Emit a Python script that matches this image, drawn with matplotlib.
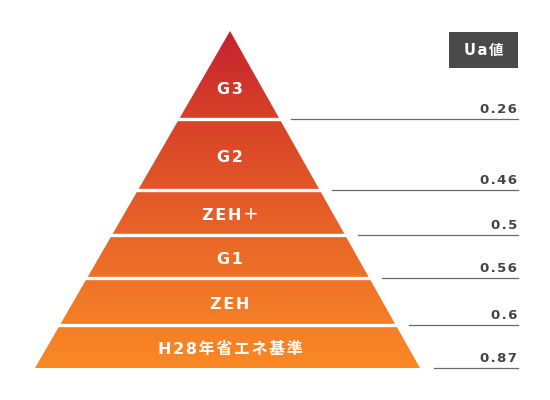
import numpy as np
import matplotlib
matplotlib.use("Agg")
import matplotlib.pyplot as plt
from matplotlib.patches import Polygon, Rectangle
from matplotlib.colors import LinearSegmentedColormap

plt.rcParams['font.family'] = ['Noto Sans CJK JP', 'DejaVu Sans']

# データ
levels = ['G3', 'G2', 'ZEH＋', 'G1', 'ZEH', 'H28年省エネ基準']
ua_values = ['0.26', '0.46', '0.5', '0.56', '0.6', '0.87']
header = 'Ua値'

# レイアウト (pixel座標)
apex = (230, 31)
base_y = 368
base_left, base_right = 35, 420
tier_bottoms = [119, 190, 235, 278, 325, 368]
line_end = 518

fig = plt.figure(figsize=(5.5, 4), dpi=100)
ax = fig.add_axes([0, 0, 1, 1])
ax.set_xlim(0, 550)
ax.set_ylim(400, 0)
ax.axis('off')

FONTS = ['DejaVu Sans', 'Noto Sans CJK JP']


def spaced(s, sep='\u200a'):
    # 文字間隔を広げる
    return sep.join(s)


def half_width(y):
    return (base_right - base_left) / 2 * (y - apex[1]) / (base_y - apex[1])


# グラデーションの三角形
cmap = LinearSegmentedColormap.from_list(
    'pyr', ['#c4222f', '#d84028', '#e35a27', '#f07428', '#fa8924'])
grad = np.linspace(0, 1, 256).reshape(-1, 1)
img = ax.imshow(grad, cmap=cmap, aspect='auto',
                extent=(base_left, base_right, base_y, apex[1]), zorder=1)
tri = Polygon([apex, (base_left, base_y), (base_right, base_y)],
              closed=True, facecolor='none', edgecolor='none')
ax.add_patch(tri)
img.set_clip_path(tri)

top = apex[1]
for name, val, yb in zip(levels, ua_values, tier_bottoms):
    hw = half_width(yb)
    # 区切りの白線
    if yb != base_y:
        ax.plot([base_left - 10, apex[0] + hw + 3], [yb, yb],
                color='white', lw=2.4, zorder=2, solid_capstyle='butt')
    # 右側の線と値
    ax.plot([apex[0] + hw + 11, line_end], [yb, yb],
            color='#6a6a6a', lw=0.9, zorder=2)
    ax.text(line_end - 1, yb - 3, spaced(val), ha='right', va='bottom',
            fontsize=9.5, fontweight='bold', color='#444444', family=FONTS)
    # ラベル
    yc = (top + yb) / 2 + 3 if name != 'G3' else 90
    ax.text(apex[0], yc, spaced(name), ha='center', va='center',
            fontsize=11.5, fontweight='bold', color='white', zorder=3,
            family=FONTS)
    top = yb

# Ua値ボックス
ax.add_patch(Rectangle((449, 32), 69, 36, facecolor='#4a4a4a',
                       edgecolor='none', zorder=2))
ax.text(484, 50, spaced(header), ha='center', va='center', fontsize=10.5,
        fontweight='bold', color='white', zorder=3, family=FONTS)

fig.savefig('out.png', dpi=100, facecolor='white')
